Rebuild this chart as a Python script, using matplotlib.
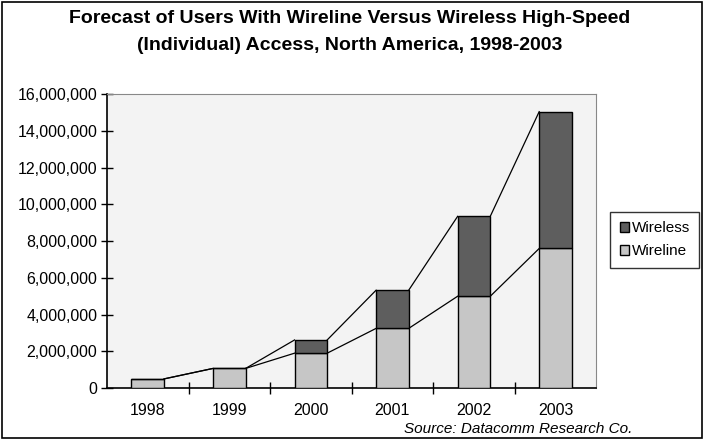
import numpy as np
import matplotlib.pyplot as plt
from matplotlib.patches import Rectangle

years = ['1998', '1999', '2000', '2001', '2002', '2003']
wireline = [500000, 1070000, 1900000, 3250000, 5000000, 7600000]
wireless = [0, 0, 720000, 2080000, 4350000, 7450000]

plt.rcParams['font.family'] = ['Liberation Sans', 'DejaVu Sans']

fig = plt.figure(figsize=(7.04, 4.4), dpi=100)
fig.patch.set_facecolor('white')
ax = fig.add_axes([0.152, 0.118, 0.695, 0.668])
ax.set_facecolor('#f3f3f3')

x = np.arange(len(years))
w = 0.4
wl = np.array(wireline)
tot = wl + np.array(wireless)
ax.bar(x, wl, w, color='#c6c6c6', edgecolor='black', linewidth=1.0, label='Wireline', zorder=3)
ax.bar(x, wireless, w, bottom=wl, color='#5e5e5e', edgecolor='black', linewidth=1.0,
       label='Wireless', zorder=3)

# series lines joining the bar tops
for top in (wl, tot):
    for i in range(len(x) - 1):
        ax.plot([x[i] + w / 2, x[i + 1] - w / 2], [top[i], top[i + 1]],
                color='black', linewidth=0.9, zorder=2)

ax.set_xlim(-0.5, len(years) - 0.5)
ax.set_ylim(0, 16000000)
ax.set_yticks(np.arange(0, 16000001, 2000000))
ax.set_yticklabels([f'{v:,}' for v in range(0, 16000001, 2000000)], fontsize=11.5)
ax.set_xticks(x)
ax.set_xticklabels(years, fontsize=11.5)
ax.tick_params(axis='x', length=0, pad=11)
ax.set_xticks(np.arange(0.5, len(years) - 0.5), minor=True)
ax.tick_params(axis='x', which='minor', direction='inout', length=8, width=1)
ax.tick_params(axis='y', direction='inout', length=8, width=1, pad=3)

for side in ('top', 'right'):
    ax.spines[side].set_color('#888888')
    ax.spines[side].set_linestyle((0, (1, 1)))
    ax.spines[side].set_linewidth(0.8)
for side in ('left', 'bottom'):
    ax.spines[side].set_linewidth(1.2)

handles, labels = ax.get_legend_handles_labels()
leg = fig.legend(handles[::-1], labels[::-1], loc='upper left',
                 bbox_to_anchor=(0.867, 0.518), fontsize=11, frameon=True,
                 fancybox=False, edgecolor='black', handlelength=0.6,
                 handleheight=0.6, handletextpad=0.2, borderpad=0.6,
                 labelspacing=0.6, borderaxespad=0)
leg.get_frame().set_linewidth(1.0)

fig.text(0.497, 0.957, 'Forecast of Users With Wireline Versus Wireless High-Speed',
         ha='center', va='center', fontsize=14, fontweight='bold')
fig.text(0.497, 0.897, '(Individual) Access, North America, 1998-2003',
         ha='center', va='center', fontsize=14, fontweight='bold')
fig.text(0.898, 0.026, 'Source: Datacomm Research Co.', ha='right', va='center',
         fontsize=11, style='italic')

fig.add_artist(Rectangle((0.003, 0.005), 0.994, 0.99, transform=fig.transFigure,
                         fill=False, edgecolor='black', linewidth=1.2))

fig.savefig('out.png', dpi=100)
